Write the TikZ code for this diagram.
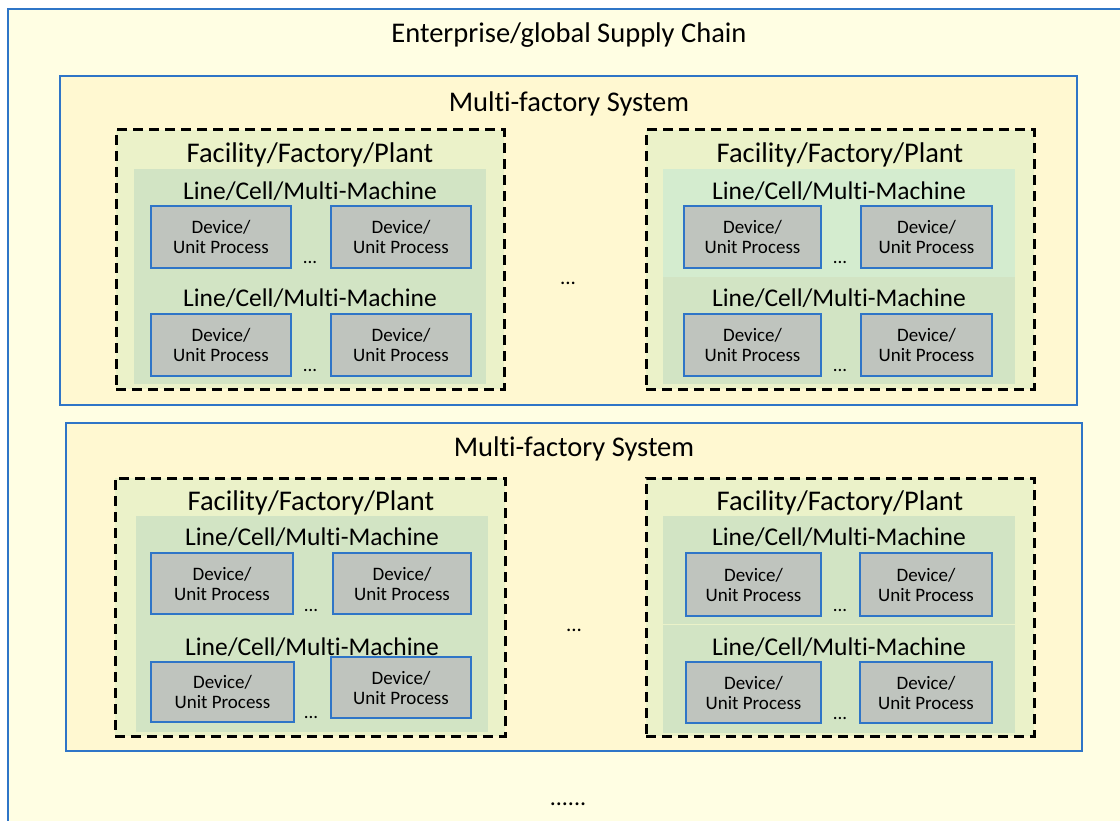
\documentclass[tikz,border=0pt]{standalone}
\usepackage{fontspec}
\setmainfont{Carlito}[Ligatures={NoCommon,NoContextual}]
\definecolor{cream}{HTML}{FFFEE3}
\definecolor{multifill}{HTML}{FFF8D1}
\definecolor{facfill}{HTML}{EBF2C9}
\definecolor{linefill}{HTML}{D2E4C4}
\definecolor{linefillb}{HTML}{D4ECCF}
\definecolor{devgray}{HTML}{BFC4BE}
\definecolor{bblue}{HTML}{2F75C7}
\newcommand\Mlt{Mult\kern0pt i}
\newcommand\LCM{Line/Cell/\Mlt-Machine}
\newcommand\rectnode[7]{%
  \node[#2, anchor=center, inner sep=0pt, outer sep=0pt,
        minimum width={#5-#3}, minimum height={#6-#4}]
        (#1) at ({(#3+#5)/2},{(#4+#6)/2}) {#7};}
\newcommand\devnode[5]{%
  \rectnode{#1}{devbox}{#2}{#3}{#4}{#5}{Device/\\[-1pt]Unit Process}}
\begin{document}
\begin{tikzpicture}[x=1pt,y=-1pt,
  ttl/.style={font=\fontsize{28.5}{34}\selectfont, inner sep=0pt, anchor=base},
  lcm/.style={font=\fontsize{25.5}{30}\selectfont, inner sep=0pt, anchor=base},
  dots/.style={font=\fontsize{19}{22}\selectfont, inner sep=0pt, anchor=base},
  multibox/.style={draw=bblue, line width=1.5pt, fill=multifill},
  facbox/.style={draw=black, line width=3pt, dash pattern=on 10pt off 6pt, fill=facfill},
  linebox/.style={fill=linefill},
  lineboxb/.style={fill=linefillb},
  devbox/.style={draw=bblue, line width=2pt, fill=devgray, align=center,
    font=\fontsize{19}{21}\selectfont, text depth=0pt}]
\useasboundingbox (0,0) rectangle (1120,821);
\clip (0,0) rectangle (1120,821);
\fill[white] (0,0) rectangle (1120,821);
% enterprise
\fill[cream] (8,9) rectangle (1130,830);
\draw[bblue, line width=1.5pt] (8,830) -- (8,9) -- (1130,9);
\node[ttl] (ent) at (569,43) {Enterprise/global Supply Chain};
% ===== top multi-factory system
\rectnode{ms1}{multibox}{60}{76}{1077}{405}{}
\node[ttl] (ms1t) at (569,112) {\Mlt-factory System};
% top-left facility
\rectnode{f1}{facbox}{116}{130}{504}{389}{}
\node[ttl] (f1t) at (310,163) {Facility/Factory/Plant};
\rectnode{l1}{linebox}{134}{169}{486}{384}{}
\node[lcm] (l1t) at (310,200) {\LCM};
\node[lcm] (l1u) at (310,307) {\LCM};
\devnode{d111}{151}{206}{291}{268}
\devnode{d112}{331}{206}{471}{268}
\devnode{d121}{151}{314}{291}{376}
\devnode{d122}{331}{314}{471}{376}
\node[dots] (e11) at (310,264) {...};
\node[dots] (e12) at (310,371) {...};
% top-right facility
\rectnode{f2}{facbox}{646}{130}{1034}{389}{}
\node[ttl] (f2t) at (840,163) {Facility/Factory/Plant};
\rectnode{l2a}{lineboxb}{663}{169}{1015}{277}{}
\rectnode{l2b}{linebox}{663}{277}{1015}{384}{}
\node[lcm] (l2t) at (839,200) {\LCM};
\node[lcm] (l2u) at (839,307) {\LCM};
\devnode{d211}{684}{206}{821}{268}
\devnode{d212}{861}{206}{992}{268}
\devnode{d221}{684}{314}{821}{376}
\devnode{d222}{861}{314}{992}{376}
\node[dots] (e21) at (840,264) {...};
\node[dots] (e22) at (840,371) {...};
\node[dots, font=\fontsize{21}{24}\selectfont] (em1) at (568,285) {...};
% ===== bottom multi-factory system
\rectnode{ms2}{multibox}{66}{423}{1082}{751}{}
\node[ttl] (ms2t) at (574,456) {\Mlt-factory System};
% bottom-left facility
\rectnode{f3}{facbox}{115}{478}{505}{736}{}
\node[ttl] (f3t) at (311,510) {Facility/Factory/Plant};
\rectnode{l3}{linebox}{136}{516}{488}{732}{}
\node[lcm] (l3t) at (312,545) {\LCM};
\node[lcm] (l3u) at (312,655) {\LCM};
\devnode{d311}{151}{553}{293}{614}
\devnode{d312}{333}{553}{471}{614}
\devnode{d321}{151}{662}{294}{722}
\devnode{d322}{331}{657}{471}{718}
\node[dots] (e31) at (311,611) {...};
\node[dots] (e32) at (311,718) {...};
% bottom-right facility
\rectnode{f4}{facbox}{646}{478}{1034}{736}{}
\node[ttl] (f4t) at (840,510) {Facility/Factory/Plant};
\rectnode{l4a}{linebox}{663}{516}{1015}{623.5}{}
\rectnode{l4b}{linebox}{663}{624.5}{1015}{733}{}
\node[lcm] (l4t) at (839,545) {\LCM};
\node[lcm] (l4u) at (839,655) {\LCM};
\devnode{d411}{686}{553}{821}{616}
\devnode{d412}{860}{553}{992}{616}
\devnode{d421}{686}{662}{821}{723}
\devnode{d422}{860}{662}{992}{723}
\node[dots] (e41) at (840,611) {...};
\node[dots] (e42) at (840,719) {...};
\node[dots, font=\fontsize{21}{24}\selectfont] (em2) at (574,631) {...};
% bottom ellipsis
\node[dots, font=\fontsize{24}{28}\selectfont] (ebot) at (568,805) {......};
\end{tikzpicture}
\end{document}
